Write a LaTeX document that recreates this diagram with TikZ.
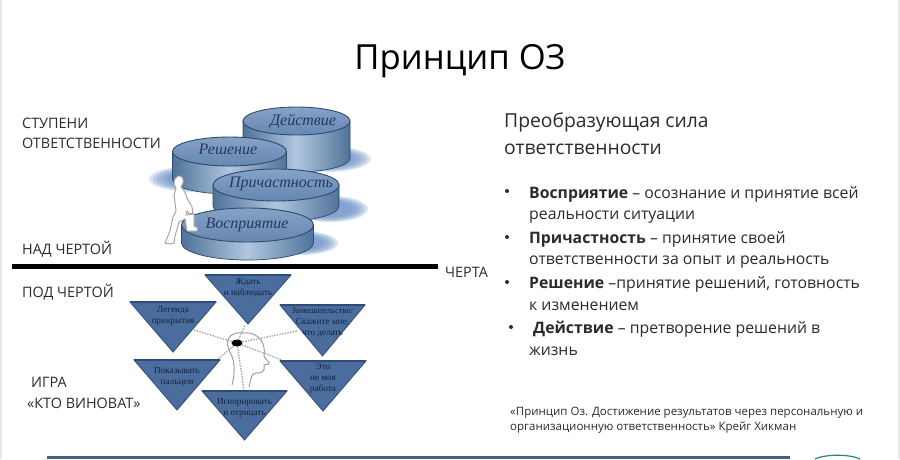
\documentclass[tikz,border=0pt]{standalone}
\usepackage{fontspec}
\usetikzlibrary{shapes.geometric}
\setmainfont{Open Sans}
\newfontfamily\serifcyr{Liberation Serif}
\definecolor{inkc}{HTML}{2B2B2B}
\definecolor{cyledge}{HTML}{2E4A6E}
\definecolor{cyldark}{HTML}{4F7399}
\definecolor{cylmid}{HTML}{B0C6DE}
\definecolor{cyltop}{HTML}{86A2C6}
\definecolor{cyltopb}{HTML}{6587B2}
\definecolor{shadowc}{HTML}{6F93C8}
\definecolor{trifill}{HTML}{4A6D9E}
\definecolor{triedge}{HTML}{2F4C78}
\definecolor{labelc}{HTML}{263A60}
\definecolor{tritext}{HTML}{14233F}
\definecolor{barc}{HTML}{3F6382}
\tikzset{
  lefttext/.style={anchor=west,inner sep=0pt,text=inkc,font=\fontsize{14.4}{16}\selectfont},
  headtext/.style={anchor=west,inner sep=0pt,text=inkc,font=\fontsize{19.3}{22}\selectfont},
  bodytext/.style={anchor=west,inner sep=0pt,text=inkc,font=\fontsize{15.8}{18}\selectfont},
  citetext/.style={anchor=west,inner sep=0pt,text=inkc,font=\fontsize{11.5}{13}\selectfont},
  cyllabel/.style={inner sep=0pt,text=labelc,font=\serifcyr\itshape\fontsize{16}{18}\selectfont},
  tritxt/.style={inner sep=0pt,align=center,text=tritext,font=\serifcyr\fontsize{9.2}{11}\selectfont},
  spoke/.style={draw=gray!70,dash pattern=on 1.5pt off 1.2pt,line width=1.3pt},
  bullet/.style={circle,fill=inkc,inner sep=0pt,minimum size=4pt},
}
% soft shadow: cx cy rx ry
\newcommand{\softshadow}[4]{%
  \foreach \k in {1.0,0.92,0.84,0.76,0.68,0.6}{%
    \fill[shadowc,opacity=0.26] (#1,#2) ellipse [x radius=\k*#3,y radius=\k*#4];}}
% cylinder: cx cy rx ry h
\newcommand{\cyl}[5]{%
  \path[left color=cyldark,right color=cyldark,middle color=cylmid,draw=cyledge,line width=.7pt]
    (#1-#3,#2) -- (#1-#3,#2+#5) arc [start angle=180,end angle=0,x radius=#3,y radius=#4]
    -- (#1+#3,#2) -- cycle;
  \path[top color=cyltop,bottom color=cyltopb,draw=cyledge,line width=.9pt]
    (#1,#2) ellipse [x radius=#3,y radius=#4];}
% triangle: name x-left x-right y-top y-bottom text-offset label
\newcommand{\tri}[7]{%
  \path[fill=trifill,draw=triedge,line width=.8pt]
    (#2,#4) -- (#3,#4) -- ({(#2+#3)/2},#5) -- cycle;
  \draw[triedge,line width=1.5pt] (#2,#4) -- (#3,#4);
  \node[tritxt] (#1) at ({(#2+#3)/2},#4+#6) {#7};}
\begin{document}
\begin{tikzpicture}[x=1pt,y=-1pt]
\useasboundingbox (0,0) rectangle (900,459);
\fill[white] (0,0) rectangle (900,459);
\fill[gray!18] (0,0) rectangle (2,459);
\fill[gray!18] (898,0) rectangle (900,459);

\node[anchor=center,inner sep=0pt,text=black,font=\fontsize{34.6}{38}\selectfont] (title) at (460,61) {Принцип ОЗ};

% left labels
\node[lefttext] (l1) at (22,123) {СТУПЕНИ};
\node[lefttext] (l2) at (22,143) {ОТВЕТСТВЕННОСТИ};
\node[lefttext] (l3) at (22,249) {НАД ЧЕРТОЙ};
\node[lefttext] (l4) at (22,292) {ПОД ЧЕРТОЙ};
\node[lefttext] (l5) at (31,382) {ИГРА};
\node[lefttext] (l6) at (27,403) {«КТО ВИНОВАТ»};
\node[lefttext] (l7) at (445,272) {ЧЕРТА};

% shadows
\softshadow{325}{159}{46}{13}
\softshadow{196}{179}{47}{13}
\softshadow{330}{209}{38}{13}
\softshadow{300}{243}{38}{12}

% steps
\cyl{296.5}{121}{53.5}{14}{37}
\cyl{229.5}{151.5}{57}{14.5}{28}
\cyl{276}{185}{63}{16}{21}
\cyl{247.5}{225}{66}{17}{18}
\node[cyllabel] (c1) at (303,121) {Действие};
\node[cyllabel] (c2) at (228,149) {Решение};
\node[cyllabel] (c3) at (281,184) {Причастность};
\node[cyllabel] (c4) at (247,225) {Восприятие};

% climbing person
\path[fill=white,draw=gray!70,line width=1pt]
  (178,176) .. controls (182,175) and (184,179) .. (183,183) -- (181,187)
  .. controls (184,190) and (186,194) .. (187,198)
  -- (192,207) -- (193,213) -- (189,214) -- (187,211) -- (186,215)
  -- (194,214) -- (194,226) -- (198,228) -- (197,231) -- (187,231)
  -- (185,219) -- (179,222) -- (175,236) -- (174,243) -- (170,244)
  -- (165,243) -- (170,231) -- (173,217) -- (176,211) -- (175,202)
  -- (174,195) -- (176,188) -- (174,184)
  .. controls (174,180) and (175,177) .. (178,176) -- cycle;

% line
\coordinate (lineL) at (12,266);
\coordinate (lineR) at (438,266);
\draw[black,line width=5pt] (lineL) -- (lineR);

% head
\draw[gray!75,line width=1pt]
  (232,385) .. controls (235,374) and (235,362) .. (231,354)
  .. controls (224,342) and (227,331) .. (245,333)
  .. controls (260,332) and (266,345) .. (264,356)
  .. controls (266,360) and (270,362) .. (269,364)
  -- (264,365) .. controls (265,372) and (262,373) .. (256,373)
  .. controls (251,373) and (251,380) .. (249,387);

% spokes
\node[ellipse,fill=black,inner sep=0pt,minimum width=11pt,minimum height=7pt] (blob) at (237,343) {};
\coordinate (s1) at (245,325);
\coordinate (s2) at (194,330);
\coordinate (s3) at (297,331);
\coordinate (s4) at (218,359);
\coordinate (s5) at (282,360);
\coordinate (s6) at (244,390);
\foreach \e in {s1,s2,s3,s4,s5,s6} \draw[spoke] (blob) -- (\e);

% triangles
\tri{t1}{205}{291}{275}{324}{13}{Ждать\\и наблюдать}
\tri{t2}{130}{216}{302}{352}{13.5}{Легенда\\прикрытия}
\tri{t3}{280}{365}{305}{356}{17.5}{\fontsize{8.6}{9.8}\selectfont Замешательство:\\Скажите мне,\\что делать}
\tri{t4}{134}{220}{360}{410}{16.5}{Показывать\\пальцем}
\tri{t5}{280}{366}{361}{411}{17}{Это\\не моя\\работа}
\tri{t6}{202}{287}{391}{440}{17}{Игнорировать\\и отрицать}

% right column
\node[headtext] (h1) at (504,122) {Преобразующая сила};
\node[headtext] (h2) at (504,149) {ответственности};
\node[bullet] (b1) at (507,191) {};
\node[bullet] (b2) at (507,237) {};
\node[bullet] (b3) at (507,282) {};
\node[bullet] (b4) at (511,327) {};
\node[bodytext] (p1) at (529,194) {\textbf{Восприятие} – осознание и принятие всей};
\node[bodytext] (p1b) at (529,217) {реальности ситуации};
\node[bodytext] (p2) at (529,239) {\textbf{Причастность} – принятие своей};
\node[bodytext] (p2b) at (529,262) {ответственности за опыт и реальность};
\node[bodytext] (p3) at (529,284) {\textbf{Решение} –принятие решений, готовность};
\node[bodytext] (p3b) at (529,306) {к изменением};
\node[bodytext] (p4) at (533,329) {\textbf{Действие} – претворение решений в};
\node[bodytext] (p4b) at (529,351) {жизнь};
\node[citetext] (c1x) at (510,413) {«Принцип Оз. Достижение результатов через персональную и};
\node[citetext] (c2x) at (510,428) {организационную ответственность» Крейг Хикман};

% bottom bar
\fill[barc] (47,456) rectangle (790,459);
\draw[draw=teal!60!gray,line width=1.2pt] (815,459) .. controls (825,454) and (850,454) .. (860,459);
\end{tikzpicture}
\end{document}
